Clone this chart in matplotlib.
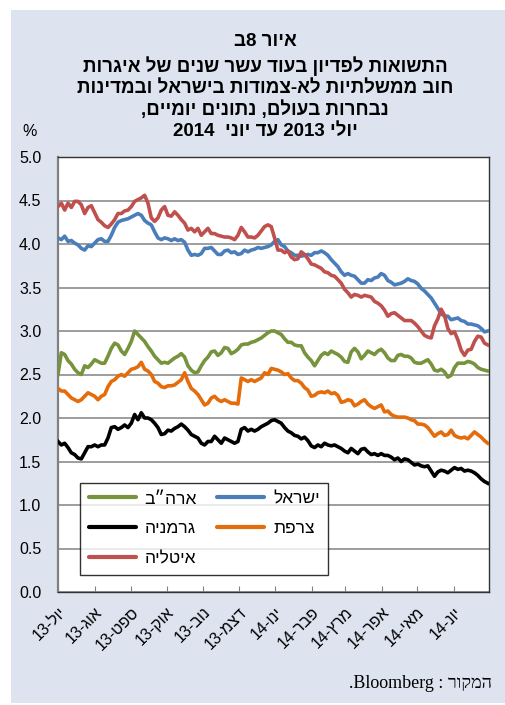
import re

import numpy as np
import pandas as pd
import matplotlib
matplotlib.use("Agg")
import matplotlib.pyplot as plt
from matplotlib.patches import Rectangle

# ---- data (roughly every 3 days) ----
start_date = "2013-07-01"
end_date = "2014-06-30"

israel = [
    4.07, 4.05, 4.09, 4.03, 4.04, 4.01, 3.99, 3.95, 3.93, 3.98, 3.97, 4.01, 4.05, 4.06, 4.03, 4.03,
    4.10, 4.19, 4.25, 4.27, 4.28, 4.29, 4.31, 4.33, 4.35, 4.33, 4.27, 4.24, 4.22, 4.14, 4.07, 4.05,
    4.07, 4.06, 4.04, 4.06, 4.04, 4.05, 4.02, 3.93, 3.87, 3.88, 3.87, 3.89, 3.95, 3.95, 3.96, 3.92,
    3.88, 3.88, 3.92, 3.93, 3.90, 3.91, 3.88, 3.89, 3.93, 3.91, 3.93, 3.94, 3.96, 3.95, 3.96, 3.97,
    3.99, 4.03, 4.05, 3.99, 3.97, 3.92, 3.90, 3.87, 3.87, 3.86, 3.87, 3.88, 3.87, 3.90, 3.90, 3.92,
    3.90, 3.87, 3.82, 3.78, 3.74, 3.68, 3.64, 3.66, 3.64, 3.63, 3.59, 3.55, 3.55, 3.59, 3.58, 3.61,
    3.62, 3.66, 3.64, 3.58, 3.56, 3.53, 3.54, 3.55, 3.57, 3.60, 3.58, 3.57, 3.54, 3.49, 3.46, 3.42,
    3.38, 3.32, 3.26, 3.20, 3.17, 3.17, 3.13, 3.14, 3.15, 3.12, 3.11, 3.08, 3.08, 3.07, 3.06, 3.03,
    2.99, 3.00,
]
italy = [
    4.43, 4.47, 4.39, 4.47, 4.42, 4.49, 4.49, 4.45, 4.35, 4.42, 4.44, 4.36, 4.28, 4.25, 4.21, 4.19,
    4.23, 4.28, 4.35, 4.35, 4.38, 4.39, 4.43, 4.49, 4.51, 4.53, 4.56, 4.47, 4.30, 4.26, 4.30, 4.39,
    4.43, 4.33, 4.32, 4.37, 4.33, 4.28, 4.24, 4.16, 4.18, 4.14, 4.18, 4.10, 4.14, 4.18, 4.12, 4.12,
    4.10, 4.09, 4.08, 4.08, 4.07, 4.05, 4.10, 4.19, 4.14, 4.08, 4.08, 4.07, 4.10, 4.15, 4.20, 4.22,
    4.20, 4.07, 3.93, 3.93, 3.90, 3.92, 3.85, 3.82, 3.83, 3.91, 3.88, 3.83, 3.77, 3.76, 3.74, 3.72,
    3.68, 3.67, 3.64, 3.63, 3.59, 3.55, 3.48, 3.44, 3.39, 3.42, 3.41, 3.39, 3.41, 3.40, 3.39, 3.34,
    3.32, 3.29, 3.24, 3.17, 3.20, 3.21, 3.18, 3.15, 3.12, 3.12, 3.12, 3.09, 3.05, 3.00, 2.95, 2.93,
    2.92, 3.06, 3.14, 3.25, 3.18, 3.03, 2.97, 2.99, 2.90, 2.78, 2.72, 2.78, 2.79, 2.88, 2.94, 2.93,
    2.86, 2.84,
]
usa = [
    2.50, 2.75, 2.73, 2.66, 2.62, 2.56, 2.52, 2.50, 2.60, 2.58, 2.62, 2.67, 2.65, 2.63, 2.63, 2.71,
    2.80, 2.86, 2.84, 2.77, 2.73, 2.80, 2.88, 3.00, 2.96, 2.92, 2.88, 2.82, 2.77, 2.71, 2.67, 2.63,
    2.64, 2.63, 2.66, 2.69, 2.71, 2.74, 2.70, 2.60, 2.55, 2.52, 2.53, 2.60, 2.66, 2.70, 2.76, 2.77,
    2.72, 2.75, 2.81, 2.80, 2.74, 2.76, 2.79, 2.84, 2.85, 2.85, 2.87, 2.88, 2.90, 2.92, 2.95, 2.98,
    3.00, 3.00, 2.98, 2.96, 2.91, 2.87, 2.87, 2.84, 2.83, 2.83, 2.75, 2.70, 2.66, 2.60, 2.66, 2.72,
    2.75, 2.73, 2.77, 2.75, 2.73, 2.70, 2.65, 2.64, 2.76, 2.80, 2.76, 2.68, 2.72, 2.77, 2.75, 2.73,
    2.77, 2.79, 2.75, 2.69, 2.66, 2.66, 2.72, 2.73, 2.71, 2.71, 2.69, 2.64, 2.63, 2.63, 2.65, 2.67,
    2.62, 2.55, 2.54, 2.56, 2.53, 2.47, 2.49, 2.58, 2.63, 2.63, 2.63, 2.65, 2.64, 2.62, 2.58, 2.56,
    2.55, 2.54,
]
france = [
    2.34, 2.31, 2.31, 2.27, 2.23, 2.21, 2.19, 2.21, 2.25, 2.29, 2.27, 2.25, 2.21, 2.25, 2.27, 2.36,
    2.42, 2.44, 2.48, 2.50, 2.48, 2.52, 2.56, 2.57, 2.59, 2.64, 2.56, 2.54, 2.50, 2.42, 2.40, 2.36,
    2.35, 2.37, 2.37, 2.38, 2.41, 2.44, 2.52, 2.42, 2.34, 2.31, 2.27, 2.21, 2.15, 2.17, 2.23, 2.25,
    2.21, 2.19, 2.21, 2.19, 2.17, 2.17, 2.16, 2.46, 2.44, 2.42, 2.44, 2.42, 2.44, 2.46, 2.52, 2.50,
    2.57, 2.56, 2.55, 2.53, 2.50, 2.51, 2.46, 2.43, 2.43, 2.40, 2.35, 2.32, 2.25, 2.26, 2.29, 2.30,
    2.29, 2.31, 2.28, 2.29, 2.26, 2.18, 2.19, 2.21, 2.20, 2.14, 2.16, 2.19, 2.21, 2.16, 2.13, 2.11,
    2.13, 2.15, 2.07, 2.08, 2.04, 2.02, 2.01, 2.01, 2.01, 2.00, 1.98, 1.97, 1.93, 1.93, 1.92, 1.89,
    1.84, 1.79, 1.82, 1.84, 1.80, 1.81, 1.86, 1.80, 1.78, 1.77, 1.78, 1.76, 1.80, 1.84, 1.81, 1.78,
    1.74, 1.71,
]
germany = [
    1.73, 1.69, 1.71, 1.66, 1.60, 1.58, 1.54, 1.53, 1.60, 1.67, 1.67, 1.69, 1.67, 1.69, 1.69, 1.77,
    1.89, 1.90, 1.87, 1.89, 1.92, 1.89, 1.94, 2.04, 1.98, 2.06, 2.00, 2.00, 1.98, 1.94, 1.89, 1.81,
    1.82, 1.86, 1.85, 1.88, 1.90, 1.93, 1.90, 1.86, 1.81, 1.79, 1.77, 1.71, 1.69, 1.73, 1.73, 1.79,
    1.75, 1.71, 1.77, 1.75, 1.73, 1.71, 1.73, 1.87, 1.89, 1.85, 1.87, 1.85, 1.87, 1.90, 1.92, 1.94,
    1.97, 1.98, 1.96, 1.94, 1.89, 1.85, 1.83, 1.80, 1.79, 1.76, 1.78, 1.74, 1.68, 1.66, 1.69, 1.67,
    1.71, 1.69, 1.68, 1.69, 1.67, 1.65, 1.62, 1.60, 1.65, 1.62, 1.59, 1.64, 1.65, 1.61, 1.58, 1.59,
    1.57, 1.59, 1.57, 1.57, 1.55, 1.52, 1.54, 1.50, 1.53, 1.52, 1.49, 1.46, 1.47, 1.45, 1.44, 1.45,
    1.39, 1.33, 1.38, 1.40, 1.39, 1.37, 1.40, 1.43, 1.41, 1.42, 1.39, 1.40, 1.39, 1.37, 1.34, 1.30,
    1.27, 1.25,
]

month_labels = ["יול-13", "אוג-13", "ספט-13", "אוק-13", "נוב-13", "דצמ-13",
                "ינו-14", "פבר-14", "מרץ-14", "אפר-14", "מאי-14", "יונ-14"]
y_ticks = [0.0, 0.5, 1.0, 1.5, 2.0, 2.5, 3.0, 3.5, 4.0, 4.5, 5.0]

title_lines = [
    "איור 8ב",
    "התשואות לפדיון בעוד עשר שנים של איגרות",
    "חוב ממשלתיות לא-צמודות בישראל ובמדינות",
    "נבחרות בעולם, נתונים יומיים,",
    "יולי 2013 עד יוני  2014",
]
source_text = "המקור : Bloomberg."

# name, values, colour -- order gives the legend layout (column by column)
series = [
    ("ארה\u05f4ב", usa, "#77933C"),
    ("גרמניה", germany, "#000000"),
    ("איטליה", italy, "#C0504D"),
    ("ישראל", israel, "#4A7EBB"),
    ("צרפת", france, "#E46C0A"),
]


def rtl(s):
    # matplotlib has no bidi: flip to visual order, keep latin/digit runs readable
    r = s[::-1]
    return re.sub(r"[0-9A-Za-z]+", lambda m: m.group(0)[::-1], r)


SANS = ["Liberation Sans", "DejaVu Sans"]
SERIF = ["Liberation Serif", "DejaVu Serif"]

plt.rcParams["font.family"] = SANS

fig = plt.figure(figsize=(5.06, 7.05), dpi=100)
fig.patch.set_facecolor("white")
fig.patches.append(Rectangle((11 / 506, 2 / 705), 1 - 11 / 506, 1 - 12 / 705,
                             transform=fig.transFigure, facecolor="#DDE4F0",
                             edgecolor="none", zorder=-10))

ax = fig.add_axes([58 / 506, 1 - 592 / 705, 431 / 506, 435 / 705])
ax.set_facecolor("white")

draw_order = ["ישראל", "איטליה", "ארה\u05f4ב", "צרפת", "גרמניה"]
handles = {}
for name, vals, col in series:
    d = pd.date_range(start_date, end_date, periods=len(vals))
    (ln,) = ax.plot(d, vals, color=col, lw=2.6, solid_joinstyle="round",
                    zorder=3 + draw_order.index(name))
    handles[name] = ln

ax.set_ylim(0, 5)
ax.set_yticks(y_ticks)
ax.set_yticklabels([f"{v:.1f}" for v in y_ticks], fontsize=11.5)
ax.tick_params(axis="y", length=0, pad=12)
ax.yaxis.grid(True, color="#8C8C8C", lw=1.2)
ax.set_axisbelow(True)

ax.set_xlim(pd.Timestamp("2013-07-01"), pd.Timestamp("2014-07-01"))
month_pos = pd.date_range("2013-07-01", periods=12, freq="MS")
ax.set_xticks(month_pos)
ax.set_xticklabels([rtl(m) for m in month_labels], rotation=45, ha="right",
                   rotation_mode="anchor", fontsize=11.5)
ax.tick_params(axis="x", direction="in", length=4, color="#808080", pad=9)

for side in ["top", "right", "bottom"]:
    ax.spines[side].set_color("#333333")
    ax.spines[side].set_linewidth(1.0)
ax.spines["left"].set_color("#808080")
ax.spines["left"].set_linewidth(1.6)

leg = ax.legend([handles[n] for n, _, _ in series], [rtl(n) for n, _, _ in series],
                ncol=2, loc="lower left", bbox_to_anchor=(0.051, 0.039),
                borderaxespad=0.0, frameon=True, fancybox=False, edgecolor="black",
                fontsize=12.5, handlelength=2.7, handletextpad=0.5, labelspacing=0.85,
                columnspacing=1.2, borderpad=0.5)
leg.get_frame().set_linewidth(1.0)
for h in leg.get_lines():
    h.set_linewidth(3.0)
    h.set_solid_capstyle("round")

# title block
ys = [42, 66, 88, 110, 131]
for txt, y in zip(title_lines, ys):
    fig.text(265 / 506, 1 - y / 705, rtl(txt), ha="center", va="center",
             fontsize=13.5, fontweight="bold", family=SANS)

fig.text(30 / 506, 1 - 131 / 705, "%", ha="center", va="center", fontsize=11.5)
fig.text(492 / 506, 1 - 683 / 705, rtl(source_text), ha="right", va="center",
         fontsize=13, family=SERIF)

fig.savefig("out.png", dpi=100, facecolor=fig.get_facecolor())
